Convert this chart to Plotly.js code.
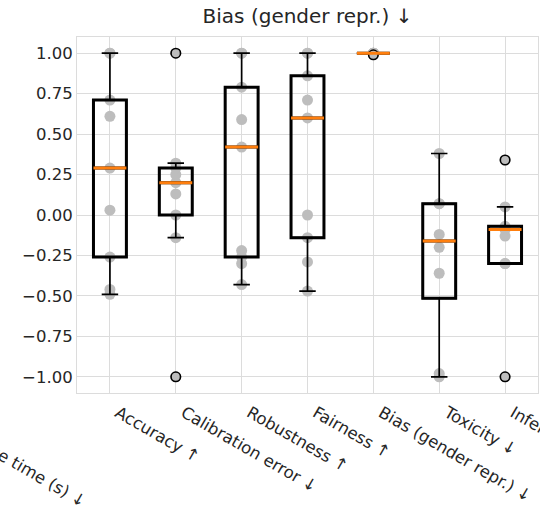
<!DOCTYPE html>
<html><head><meta charset="utf-8">
<script src="https://cdn.plot.ly/plotly-3.0.1.min.js"></script>
<style>html,body{margin:0;padding:0;background:#fff;overflow:hidden}</style>
</head><body><div id="chart" style="width:540px;height:511px"></div>
<script>
// ---- data ----
const categories = ['Accuracy ↑', 'Calibration error ↓', 'Robustness ↑', 'Fairness ↑',
                    'Bias (gender repr.) ↓', 'Toxicity ↓', 'Inference time (s) ↓'];
const accuracy    = [-0.49, -0.46, -0.26, 0.03, 0.29, 0.61, 0.71, 1.00, 1.00];
const calibration = [-1.00, -0.14, 0.00, 0.13, 0.20, 0.25, 0.29, 0.32, 1.00];
const robustness  = [-0.43, -0.30, -0.26, -0.22, 0.42, 0.59, 0.79, 1.00, 1.00];
const fairness    = [-0.47, -0.29, -0.14, 0.00, 0.60, 0.71, 0.86, 1.00, 1.00];
const bias        = [0.99, 1.00, 1.00, 1.00, 1.00, 1.00, 1.00, 1.00, 1.00];
const toxicity    = [-1.00, -0.98, -0.36, -0.20, -0.12, 0.07, 0.07, 0.38];
const inference   = [-1.00, -0.30, -0.30, -0.13, -0.09, -0.08, -0.07, 0.05, 0.34];
const yTicks = [-1.00, -0.75, -0.50, -0.25, 0.00, 0.25, 0.50, 0.75, 1.00];
const titleText = 'Bias (gender repr.) ↓';
const neighborLabel = 'Inference time (s) ↓'; // cut-off tick label of the panel to the left

const series = [accuracy, calibration, robustness, fairness, bias, toxicity, inference];
const pos = categories.map((_, i) => i + 1);

// matplotlib-style statistics (numpy linear percentiles, 1.5 IQR whiskers)
function pct(s, p) {
  const k = (s.length - 1) * p, lo = Math.floor(k), hi = Math.ceil(k);
  return s[lo] + (s[hi] - s[lo]) * (k - lo);
}
const q1 = [], med = [], q3 = [], lo = [], hi = [], outX = [], outY = [];
series.forEach((vals, i) => {
  const s = vals.slice().sort((a, b) => a - b);
  const a = pct(s, 0.25), m = pct(s, 0.5), b = pct(s, 0.75), iqr = b - a;
  q1.push(a); med.push(m); q3.push(b);
  const inside = s.filter(v => v >= a - 1.5 * iqr && v <= b + 1.5 * iqr);
  lo.push(Math.min(...inside, a)); hi.push(Math.max(...inside, b));
  s.forEach(v => { if (v < a - 1.5 * iqr || v > b + 1.5 * iqr) { outX.push(pos[i]); outY.push(v); } });
});

const dotX = [], dotY = [];
series.forEach((vals, i) => vals.forEach(v => { dotX.push(pos[i]); dotY.push(v); }));

const medX = [], medY = [];
pos.forEach((p, i) => { medX.push(p - 0.25, p + 0.25, null); medY.push(med[i], med[i], null); });

const traces = [
  { // all observations, grey dots beneath the boxes
    type: 'box', x: dotX, y: dotY, boxpoints: 'all', jitter: 0, pointpos: 0, width: 0.5,
    line: { width: 0, color: 'rgba(0,0,0,0)' }, fillcolor: 'rgba(0,0,0,0)',
    marker: { color: '#bdbdbd', size: 11 }, hoverinfo: 'y', showlegend: false
  },
  { // whiskers and caps (thin)
    type: 'box', x: pos, q1: q1, median: med, q3: q3, lowerfence: lo, upperfence: hi,
    width: 0.5, whiskerwidth: 0.5, boxpoints: false,
    line: { color: '#000', width: 1.7 }, fillcolor: 'rgba(0,0,0,0)', showlegend: false
  },
  { // box outline (thick)
    type: 'box', x: pos, q1: q1, median: med, q3: q3, lowerfence: q1, upperfence: q3,
    width: 0.5, whiskerwidth: 0, boxpoints: false,
    line: { color: '#000', width: 3 }, fillcolor: 'rgba(0,0,0,0)', showlegend: false
  },
  { // fliers
    type: 'scatter', mode: 'markers', x: outX, y: outY,
    marker: { color: '#bdbdbd', size: 9.5, line: { color: '#000', width: 1.6 } }, showlegend: false
  },
  { // medians
    type: 'scatter', mode: 'lines', x: medX, y: medY,
    line: { color: '#ff7f0e', width: 3 }, showlegend: false, hoverinfo: 'skip'
  }
];

const font = { family: 'DejaVu Sans', size: 16.5, color: '#262626' };
const layout = {
  width: 540, height: 511,
  margin: { l: 77, r: 2, t: 37, b: 118 },
  paper_bgcolor: '#fff', plot_bgcolor: '#fff',
  font: font, boxmode: 'overlay', showlegend: false,
  title: { text: titleText, font: { family: 'DejaVu Sans', size: 20, color: '#262626' },
           x: 0.5, xref: 'paper', y: 1 - 16 / 511, yanchor: 'middle' },
  xaxis: {
    range: [0.5, 7.5], tickvals: pos, ticktext: categories, tickangle: 30,
    showgrid: true, gridcolor: '#dcdcdc', gridwidth: 1, zeroline: false,
    showline: true, linecolor: '#dcdcdc', linewidth: 1, mirror: true,
    ticks: '', automargin: false, tickfont: font,
    ticklabeloverflow: 'allow', ticklabelshift: 8, ticklabelstandoff: 3
  },
  yaxis: {
    range: [-1.1, 1.1], tickvals: yTicks, tickformat: '.2f',
    showgrid: true, gridcolor: '#dcdcdc', gridwidth: 1, zeroline: false,
    showline: true, linecolor: '#dcdcdc', linewidth: 1, mirror: true,
    ticks: '', automargin: false, tickfont: font
  },
  annotations: [{
    text: neighborLabel, xref: 'paper', yref: 'paper',
    x: (13 - 77) / 461, y: (393 - 461) / 356, xanchor: 'center', yanchor: 'middle',
    textangle: 30, showarrow: false, font: font
  }]
};

Plotly.newPlot('chart', traces, layout, { staticPlot: true });
</script></body></html>
